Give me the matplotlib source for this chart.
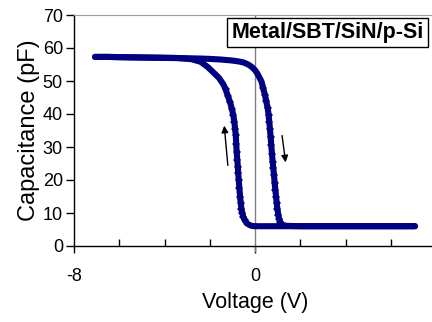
import matplotlib
matplotlib.use("Agg")
import matplotlib.pyplot as plt
import numpy as np

plt.rcParams['font.family'] = ['Liberation Sans', 'DejaVu Sans']
plt.rcParams['axes.unicode_minus'] = False

# Down sweep (right branch), voltage increasing
v_fwd = [-7.07, -6.5, -6.0, -5.0, -4.0, -3.0, -2.4, -2.0, -1.5, -1.0, -0.7, -0.5, -0.3, -0.15,
         0.0, 0.1, 0.2, 0.29, 0.36, 0.44, 0.50, 0.56, 0.60, 0.63, 0.66, 0.69, 0.72, 0.75, 0.78,
         0.81, 0.84, 0.87, 0.90, 0.93, 0.96, 0.99, 1.03, 1.07, 1.12, 1.18, 1.25, 1.4, 2.0, 3.0,
         4.0, 5.0, 6.0, 7.07]
c_fwd = [57.3, 57.3, 57.2, 57.1, 57.0, 56.9, 56.8, 56.7, 56.5, 56.2, 55.9, 55.6, 55.0, 54.3,
         53.3, 52.3, 51.0, 49.8, 47.8, 45.8, 43.8, 41.8, 39.8, 37.7, 35.5, 33.0, 30.5, 28.0, 25.5,
         23.5, 21.5, 19.0, 17.0, 15.0, 13.0, 11.2, 9.5, 8.2, 7.2, 6.6, 6.3, 6.1, 6.0, 6.0,
         6.0, 6.0, 6.0, 6.0]

# Up sweep (left branch), voltage decreasing
v_rev = [7.07, 6.0, 5.0, 4.0, 3.0, 2.0, 1.0, 0.5, 0.2, 0.0, -0.15, -0.25, -0.37, -0.45, -0.52,
         -0.56, -0.60, -0.63, -0.66, -0.69, -0.72, -0.74, -0.76, -0.78, -0.81, -0.83, -0.85,
         -0.88, -0.91, -0.96, -1.02, -1.1, -1.2, -1.3, -1.4, -1.6, -1.84, -2.1, -2.4, -2.8,
         -3.5, -4.5, -5.5, -6.5, -7.07]
c_rev = [6.0, 6.0, 6.0, 6.0, 6.0, 6.0, 6.0, 6.0, 6.0, 6.0, 6.1, 6.4, 6.9, 7.8, 8.9,
         9.9, 11.3, 13.0, 15.0, 17.5, 20.0, 22.0, 24.0, 26.0, 28.5, 31.0, 33.6,
         35.5, 37.5, 39.7, 41.5, 43.5, 45.5, 47.5, 49.0, 51.0, 52.6, 54.3, 55.8, 56.6,
         57.0, 57.1, 57.2, 57.3, 57.3]

x_ticks = [-8, 0, 8]
x_minor = [-6, -4, -2, 2, 4, 6]
y_ticks = [0, 10, 20, 30, 40, 50, 60, 70]
label_text = "Metal/SBT/SiN/p-Si"

navy = '#000080'

fig = plt.figure(figsize=(4.32, 3.22), dpi=100)
ax = fig.add_axes([74/432, 76/322, 362/432, 231/322])

for v, c in ((v_fwd, c_fwd), (v_rev, c_rev)):
    c_arr = np.asarray(c)
    mask = list((c_arr > 7.0) & (c_arr < 48.5))
    ax.plot(v, c, color=navy, lw=4.4, solid_capstyle='round', solid_joinstyle='round',
            marker='D', markersize=4.5, markevery=mask, markeredgewidth=0, zorder=3)

ax.set_xlim(-8, 8)
ax.set_ylim(0, 70)
ax.set_xticks(x_ticks)
ax.set_xticks(x_minor, minor=True)
ax.set_yticks(y_ticks)
ax.tick_params(axis='y', direction='out', length=6, width=1, labelsize=13, pad=2)
ax.tick_params(axis='x', which='major', direction='out', length=5, width=1, labelsize=13, pad=11)
ax.tick_params(axis='x', which='minor', direction='in', length=5, width=1)

for s in ('left', 'bottom'):
    ax.spines[s].set_color('black')
    ax.spines[s].set_linewidth(1)
ax.spines['top'].set_color('#a0a0a0')
ax.spines['right'].set_visible(False)

ax.axvline(0, ymin=-0.02, ymax=1, color='#808080', lw=1, clip_on=False, zorder=2)

ax.set_xlabel('Voltage (V)', fontsize=15.5, labelpad=5)
ax.set_ylabel('Capacitance (pF)', fontsize=17, labelpad=2)

ax.annotate('', xy=(-1.37, 37.3), xytext=(-1.19, 23.6),
            arrowprops=dict(arrowstyle='-|>', color='black', lw=1, mutation_scale=10))
ax.annotate('', xy=(1.37, 24.5), xytext=(1.18, 34.3),
            arrowprops=dict(arrowstyle='-|>', color='black', lw=1, mutation_scale=10))

ax.text(0.70, 0.924, label_text, transform=ax.transAxes, ha='center', va='center',
        fontsize=15.5, fontweight='bold',
        bbox=dict(boxstyle='square,pad=0.2', facecolor='white', edgecolor='black', lw=1),
        zorder=5)

fig.savefig('out.png', dpi=100)
